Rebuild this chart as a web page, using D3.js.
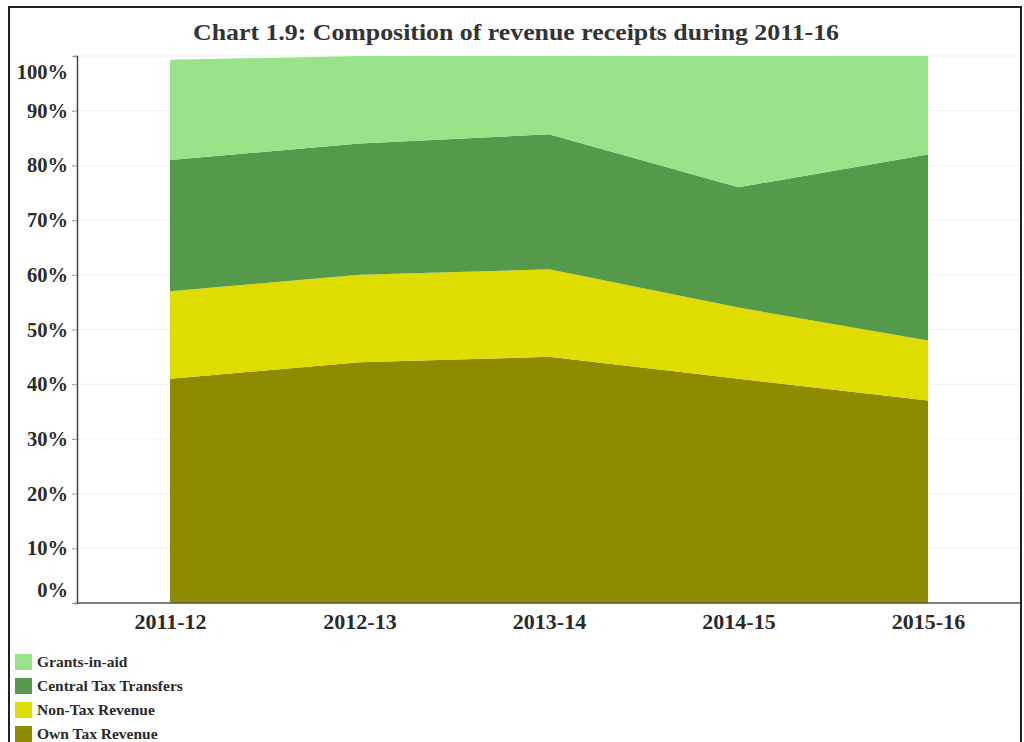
<!DOCTYPE html>
<html>
<head>
<meta charset="utf-8">
<script src="https://cdn.jsdelivr.net/npm/d3@7"></script>
<style>
  html, body { margin: 0; padding: 0; background: #fff; }
  svg { display: block; }
  text { font-family: "Liberation Serif", "Times New Roman", serif; font-weight: bold; fill: #2a2a2a; }
</style>
</head>
<body>
<svg id="chart" width="1024" height="742"></svg>
<script>
// Revenue receipt shares by year (fraction of total receipts)
const years = ["2011-12", "2012-13", "2013-14", "2014-15", "2015-16"];
const ownTaxRevenue = [0.41, 0.44, 0.45, 0.41, 0.37];
const nonTaxRevenue = [0.16, 0.16, 0.16, 0.13, 0.11];
const centralTaxTransfers = [0.24, 0.24, 0.247, 0.22, 0.34];
const grantsInAid = [0.183, 0.16, 0.143, 0.24, 0.18];
const yTicks = [0, 0.1, 0.2, 0.3, 0.4, 0.5, 0.6, 0.7, 0.8, 0.9, 1.0];

const seriesKeys = ["own", "nonTax", "central", "grants"];
const seriesNames = {
  own: "Own Tax Revenue",
  nonTax: "Non-Tax Revenue",
  central: "Central Tax Transfers",
  grants: "Grants-in-aid"
};
const colors = {
  own: "#8f8b00",
  nonTax: "#dedc00",
  central: "#559a4a",
  grants: "#98e38a"
};

const rows = years.map((y, i) => ({
  year: y,
  own: ownTaxRevenue[i],
  nonTax: nonTaxRevenue[i],
  central: centralTaxTransfers[i],
  grants: grantsInAid[i]
}));

const svg = d3.select("#chart");

// outer frame
svg.append("rect")
  .attr("x", 9).attr("y", 7)
  .attr("width", 1012).attr("height", 760)
  .attr("fill", "#fff")
  .attr("stroke", "#222").attr("stroke-width", 2);

const plotLeft = 77, plotRight = 1020, plotTop = 56, plotBottom = 603;

const x = d3.scalePoint().domain(years).range([170, 928]);
const y = d3.scaleLinear().domain([0, 1]).range([plotBottom, plotTop]);

// title
svg.append("text")
  .attr("x", 516).attr("y", 40)
  .attr("text-anchor", "middle")
  .attr("textLength", 646)
  .attr("lengthAdjust", "spacingAndGlyphs")
  .style("font-size", "24px")
  .style("fill", "#333")
  .text("Chart 1.9: Composition of revenue receipts during 2011-16");

// horizontal gridlines
svg.append("g")
  .selectAll("line")
  .data(yTicks.slice(1))
  .join("line")
  .attr("x1", plotLeft).attr("x2", plotRight)
  .attr("y1", d => y(d)).attr("y2", d => y(d))
  .attr("stroke", "#efefef").attr("stroke-width", 1);

// stacked areas
const stack = d3.stack().keys(seriesKeys);
const layers = stack(rows);
const area = d3.area()
  .x(d => x(d.data.year))
  .y0(d => y(d[0]))
  .y1(d => y(d[1]));

svg.append("g")
  .selectAll("path")
  .data(layers)
  .join("path")
  .attr("d", area)
  .attr("fill", d => colors[d.key]);

// y axis
const yAxis = svg.append("g")
  .attr("transform", `translate(${plotLeft},0)`)
  .call(d3.axisLeft(y).tickValues(yTicks).tickFormat(d3.format(".0%")).tickSize(5).tickSizeOuter(3).tickPadding(4));
yAxis.select(".domain").attr("stroke", "#444").attr("stroke-width", 1.5);
yAxis.selectAll(".tick line").attr("stroke", "#999");
yAxis.selectAll(".tick text")
  .style("font-size", "20.5px")
  .attr("fill", "#2a2a2a")
  .attr("dy", d => d === 1 ? "1.1em" : d === 0 ? "-0.3em" : "0.32em");

// x axis
svg.append("line")
  .attr("x1", plotLeft).attr("x2", plotRight)
  .attr("y1", plotBottom).attr("y2", plotBottom)
  .attr("stroke", "#555").attr("stroke-width", 1.5);
const xAxis = svg.append("g")
  .attr("transform", `translate(0,${plotBottom})`)
  .call(d3.axisBottom(x).tickSize(0).tickPadding(10));
xAxis.select(".domain").remove();
xAxis.selectAll(".tick text")
  .style("font-size", "22px")
  .attr("fill", "#2a2a2a");

// legend
const legendKeys = ["grants", "central", "nonTax", "own"];
const legend = svg.append("g")
  .selectAll("g")
  .data(legendKeys)
  .join("g")
  .attr("transform", (d, i) => `translate(15,${654 + i * 24})`);
legend.append("rect")
  .attr("width", 17).attr("height", 16)
  .attr("fill", d => colors[d]);
legend.append("text")
  .attr("x", 22).attr("y", 13)
  .style("font-size", "15.5px")
  .text(d => seriesNames[d]);
</script>
</body>
</html>
